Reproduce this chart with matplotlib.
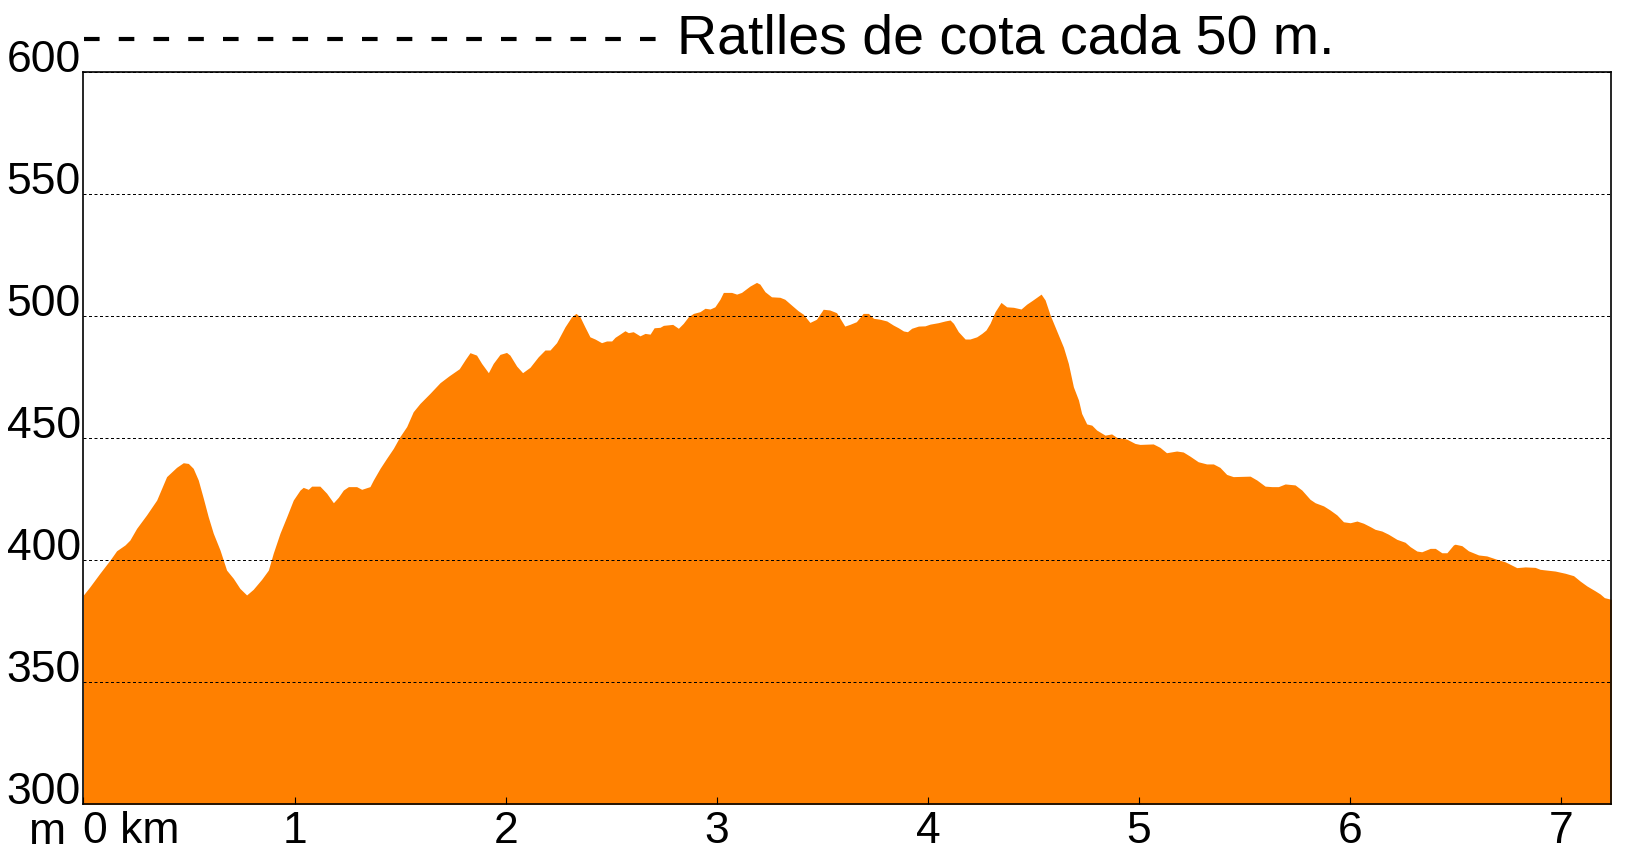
import matplotlib.pyplot as plt
from matplotlib.lines import Line2D

plt.rcParams['font.family'] = ['Liberation Sans', 'DejaVu Sans']

# distance along the route (km) and elevation (m)
dist_km = [0.000, 0.031, 0.078, 0.126, 0.157, 0.197, 0.220, 0.252, 0.299, 0.347,
           0.394, 0.441, 0.473, 0.497, 0.520, 0.544, 0.568, 0.591, 0.615, 0.647,
           0.678, 0.710, 0.741, 0.773, 0.804, 0.844, 0.876, 0.899, 0.931, 0.963,
           0.994, 1.026, 1.041, 1.065, 1.081, 1.120, 1.152, 1.184, 1.207, 1.231,
           1.255, 1.294, 1.318, 1.357, 1.373, 1.405, 1.436, 1.468, 1.499, 1.531,
           1.562, 1.594, 1.641, 1.689, 1.730, 1.780, 1.810, 1.831, 1.862, 1.886,
           1.918, 1.941, 1.973, 2.004, 2.020, 2.052, 2.080, 2.115, 2.154, 2.186,
           2.210, 2.241, 2.281, 2.312, 2.333, 2.352, 2.375, 2.399, 2.423, 2.454,
           2.478, 2.502, 2.518, 2.541, 2.565, 2.581, 2.604, 2.636, 2.660, 2.684,
           2.703, 2.731, 2.747, 2.791, 2.818, 2.841, 2.865, 2.889, 2.920, 2.944,
           2.968, 2.991, 3.015, 3.031, 3.070, 3.094, 3.117, 3.157, 3.188, 3.204,
           3.228, 3.259, 3.299, 3.322, 3.354, 3.385, 3.409, 3.441, 3.472, 3.504,
           3.535, 3.567, 3.606, 3.630, 3.661, 3.693, 3.718, 3.742, 3.773, 3.805,
           3.836, 3.860, 3.884, 3.903, 3.923, 3.955, 3.986, 4.010, 4.049, 4.081,
           4.105, 4.121, 4.144, 4.176, 4.199, 4.231, 4.255, 4.275, 4.294, 4.318,
           4.346, 4.373, 4.405, 4.441, 4.468, 4.492, 4.515, 4.536, 4.555, 4.579,
           4.610, 4.642, 4.665, 4.689, 4.713, 4.728, 4.752, 4.776, 4.799, 4.839,
           4.870, 4.894, 4.941, 4.981, 5.004, 5.067, 5.099, 5.130, 5.178, 5.209,
           5.241, 5.280, 5.320, 5.352, 5.383, 5.415, 5.446, 5.526, 5.558, 5.597,
           5.629, 5.660, 5.692, 5.739, 5.771, 5.810, 5.834, 5.874, 5.905, 5.937,
           5.968, 6.000, 6.032, 6.063, 6.095, 6.118, 6.150, 6.181, 6.221, 6.260,
           6.284, 6.316, 6.339, 6.379, 6.403, 6.434, 6.458, 6.489, 6.497, 6.529,
           6.560, 6.608, 6.647, 6.695, 6.734, 6.789, 6.829, 6.876, 6.900, 6.971,
           7.018, 7.058, 7.089, 7.121, 7.160, 7.184, 7.204, 7.237]
elev_m = [385.8, 389.2, 394.7, 400.1, 403.9, 406.3, 408.3, 413.1, 418.6, 424.7,
          434.3, 438.1, 440.0, 439.7, 437.7, 432.9, 425.4, 417.9, 411.1, 404.2,
          396.0, 392.6, 388.5, 385.8, 388.1, 392.2, 396.0, 402.9, 411.1, 417.9,
          424.7, 428.8, 429.9, 429.1, 430.4, 430.4, 427.5, 423.6, 425.8, 428.8,
          430.2, 430.2, 429.1, 430.2, 432.9, 437.7, 441.8, 445.9, 450.7, 454.8,
          460.9, 464.3, 468.4, 472.8, 475.5, 478.5, 482.5, 485.1, 484.1, 480.7,
          476.9, 480.7, 484.4, 485.2, 484.1, 479.6, 476.9, 479.1, 483.4, 486.2,
          486.2, 489.2, 495.7, 499.8, 501.2, 499.8, 495.7, 491.6, 490.7, 489.2,
          489.9, 489.9, 491.4, 492.7, 494.1, 493.3, 493.7, 492.0, 493.0, 492.7,
          495.3, 495.5, 496.3, 496.7, 495.1, 497.1, 499.8, 501.2, 501.9, 503.3,
          503.0, 503.9, 507.0, 509.8, 509.8, 509.1, 509.8, 512.4, 513.9, 513.2,
          510.1, 508.0, 507.8, 507.0, 504.6, 502.3, 500.9, 497.5, 498.8, 502.9,
          502.6, 501.5, 496.0, 496.7, 497.8, 501.2, 501.2, 499.2, 498.8, 498.1,
          496.4, 495.3, 494.0, 493.7, 495.1, 496.0, 496.1, 496.8, 497.4, 498.1,
          498.5, 497.1, 493.7, 490.7, 490.7, 491.6, 493.0, 494.4, 497.1, 501.9,
          505.7, 503.9, 503.7, 503.0, 505.0, 506.4, 507.8, 509.1, 506.7, 500.5,
          494.0, 487.3, 480.7, 471.1, 465.7, 460.2, 455.9, 455.4, 453.4, 451.3,
          451.8, 450.4, 449.7, 447.9, 447.5, 447.7, 446.3, 444.1, 444.8, 444.4,
          442.7, 440.4, 439.5, 439.5, 438.1, 435.2, 434.3, 434.5, 432.9, 430.4,
          430.2, 430.2, 431.3, 430.9, 428.8, 425.0, 423.6, 422.3, 420.6, 418.6,
          415.8, 415.4, 416.1, 415.2, 413.8, 412.7, 412.0, 410.7, 408.6, 407.4,
          405.6, 403.8, 403.5, 404.9, 404.9, 403.1, 403.1, 406.3, 406.6, 406.0,
          403.9, 402.2, 401.8, 400.4, 399.4, 397.0, 397.3, 397.1, 396.3, 395.6,
          394.7, 393.7, 391.5, 389.5, 387.5, 386.2, 384.7, 384.0]

y_ticks = [300, 350, 400, 450, 500, 550, 600]
x_ticks = [0, 1, 2, 3, 4, 5, 6, 7]
x_labels = ['0 km', '1', '2', '3', '4', '5', '6', '7']
legend_text = 'Ratlles de cota cada 50 m.'
unit_text = 'm'

orange = '#ff8000'
big = 32

fig = plt.figure(figsize=(16.52, 8.47), dpi=100)
ax = fig.add_axes([0.0505, 0.0504, 0.9249, 0.8642])

ax.fill_between(dist_km, elev_m, y_ticks[0], color=orange, lw=0)
ax.set_xlim(0, dist_km[-1])
ax.set_ylim(y_ticks[0], y_ticks[-1])

# dotted contour lines every 50 m, drawn over the profile
ax.set_axisbelow(False)
ax.yaxis.grid(True, color='black', lw=0.72, linestyle=(0, (3, 2.5)))

ax.set_yticks(y_ticks)
ax.tick_params(axis='y', length=0, pad=2, labelsize=big)
plt.setp(ax.get_yticklabels(), va='baseline')

ax.set_xticks(x_ticks)
ax.set_xticklabels(x_labels)
ax.tick_params(axis='x', direction='in', length=5, width=0.8, pad=5, labelsize=big)
ax.get_xticklabels()[0].set_ha('left')

for s in ax.spines.values():
    s.set_linewidth(1.2)

# unit for the vertical axis, next to the distance labels
fig.text(66 / 1652, 1 - 844 / 847, unit_text, ha='right', va='baseline', fontsize=big)

# legend: dashed sample followed by its text
fig.add_artist(Line2D([84 / 1652, 659 / 1652], [1 - 39 / 847, 1 - 39 / 847],
                      color='black', lw=3, linestyle=(0, (3.74, 4.6))))
fig.text(677 / 1652, 1 - 53 / 847, legend_text, ha='left', va='baseline', fontsize=40)

fig.savefig('out.png', dpi=100)
